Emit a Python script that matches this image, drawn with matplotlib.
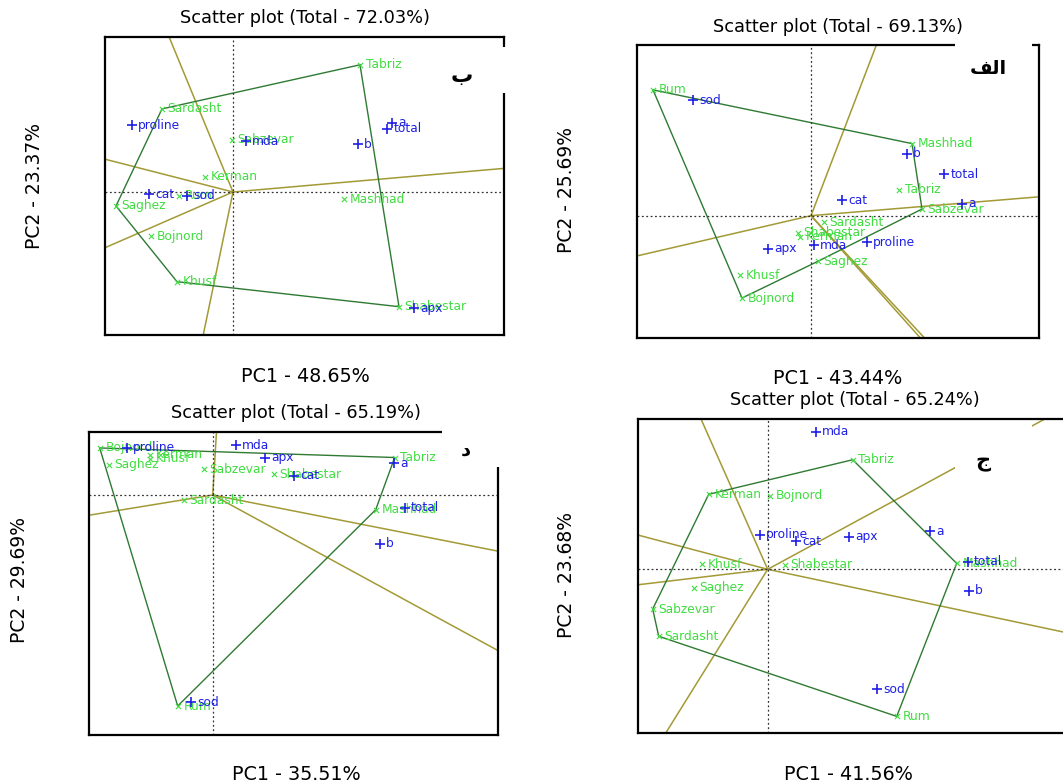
import numpy as np
import matplotlib.pyplot as plt
from matplotlib.patches import Rectangle

W, H = 1063, 782

sites = ["Tabriz", "Mashhad", "Sabzevar", "Sardasht", "Shabestar",
         "Kerman", "Saghez", "Khusf", "Bojnord", "Rum"]
traits = ["a", "b", "total", "cat", "sod", "apx", "mda", "proline"]

# panel b (top left)
p1_gx = [1.27, 1.11, -0.01, -0.71, 1.66, -0.28, -1.17, -0.56, -0.82, -0.54]
p1_gy = [1.73, -0.10, 0.71, 1.13, -1.56, 0.21, -0.19, -1.22, -0.60, -0.05]
p1_tx = [1.59, 1.25, 1.54, -0.84, -0.46, 1.81, 0.13, -1.01]
p1_ty = [0.94, 0.65, 0.86, -0.03, -0.05, -1.58, 0.69, 0.91]
p1_hull = ["Tabriz", "Shabestar", "Khusf", "Saghez", "Sardasht"]

# panel alef (top right)
p2_gx = [0.88, 1.01, 1.11, 0.13, -0.13, -0.11, 0.07, -0.71, -0.69, -1.58]
p2_gy = [0.35, 0.98, 0.09, -0.09, -0.23, -0.29, -0.62, -0.81, -1.12, 1.71]
p2_tx = [1.51, 0.96, 1.33, 0.31, -1.18, -0.43, 0.03, 0.56]
p2_ty = [0.16, 0.84, 0.56, 0.21, 1.57, -0.45, -0.40, -0.36]
p2_hull = ["Rum", "Mashhad", "Sabzevar", "Saghez", "Bojnord"]

# panel dal (bottom left)
p3_gx = [1.82, 1.63, -0.09, -0.29, 0.61, -0.63, -1.04, -0.63, -1.13, -0.35]
p3_gy = [0.51, -0.20, 0.35, -0.07, 0.28, 0.55, 0.41, 0.49, 0.64, -2.87]
p3_tx = [1.81, 1.67, 1.92, 0.81, -0.22, 0.52, 0.23, -0.86]
p3_ty = [0.43, -0.66, -0.17, 0.26, -2.82, 0.51, 0.68, 0.64]
p3_hull = ["Bojnord", "Tabriz", "Mashhad", "Rum"]

# panel jim (bottom right)
p4_gx = [0.85, 1.89, -1.15, -1.09, 0.17, -0.59, -0.74, -0.66, 0.02, 1.29]
p4_gy = [1.49, 0.08, -0.54, -0.91, 0.06, 1.02, -0.25, 0.07, 1.00, -2.00]
p4_tx = [1.62, 2.01, 2.00, 0.28, 1.09, 0.81, 0.48, -0.08]
p4_ty = [0.52, -0.29, 0.10, 0.38, -1.63, 0.44, 1.87, 0.47]
p4_hull = ["Kerman", "Tabriz", "Mashhad", "Rum", "Sardasht", "Sabzevar"]

titles = ["Scatter plot (Total - 72.03%)", "Scatter plot (Total - 69.13%)",
          "Scatter plot (Total - 65.19%)", "Scatter plot (Total - 65.24%)"]
xlabels = ["PC1 - 48.65%", "PC1 - 43.44%", "PC1 - 35.51%", "PC1 - 41.56%"]
ylabels = ["PC2 - 23.37%", "PC2 - 25.69%", "PC2 - 29.69%", "PC2 - 23.68%"]
tags = ["\u0628", "\uFED2\uFEDF\uFE8D", "\u062F", "\u062C"]

GREEN = "#40dd40"
BLUE = "#1f1fe6"
HULL = "#2f7a33"
RAY = "#a39a35"

fig = plt.figure(figsize=(W / 100, H / 100), dpi=100)


def px_axes(x0, y0, x1, y1):
    return fig.add_axes([x0 / W, 1 - y1 / H, (x1 - x0) / W, (y1 - y0) / H])


def ftext(x, y, s, **kw):
    fig.text(x / W, 1 - y / H, s, **kw)


def white_box(x0, y0, x1, y1):
    fig.patches.append(Rectangle((x0 / W, 1 - y1 / H), (x1 - x0) / W, (y1 - y0) / H,
                                 transform=fig.transFigure, facecolor="white",
                                 edgecolor="none", zorder=5))


def biplot(ax, gx, gy, tx, ty, hull, xlim, ylim):
    gx, gy = np.array(gx), np.array(gy)
    pos = {s: (gx[i], gy[i]) for i, s in enumerate(sites)}
    poly = np.array([pos[s] for s in hull])
    # sector rays, perpendicular from origin to each hull side
    for i in range(len(poly)):
        a = poly[i]
        d = poly[(i + 1) % len(poly)] - a
        t = -np.dot(a, d) / np.dot(d, d)
        foot = a + t * d
        foot = foot / np.hypot(*foot) * 20
        ax.plot([0, foot[0]], [0, foot[1]], color=RAY, lw=1.1, zorder=1)
    closed = np.vstack([poly, poly[:1]])
    ax.plot(closed[:, 0], closed[:, 1], color=HULL, lw=1.0, zorder=2)
    ax.axhline(0, color="#333333", lw=0.9, ls=(0, (1.5, 2)), zorder=2)
    ax.axvline(0, color="#333333", lw=0.9, ls=(0, (1.5, 2)), zorder=2)
    ax.scatter(gx, gy, marker="x", s=14, color=GREEN, linewidths=0.8, zorder=3)
    for i, s in enumerate(sites):
        ax.annotate(s, (gx[i], gy[i]), xytext=(4, 0), textcoords="offset points",
                    va="center", ha="left", fontsize=8.8, color=GREEN, zorder=3)
    ax.scatter(tx, ty, marker="+", s=50, color=BLUE, linewidths=1.2, zorder=4)
    for i, s in enumerate(traits):
        ax.annotate(s, (tx[i], ty[i]), xytext=(4.5, 0), textcoords="offset points",
                    va="center", ha="left", fontsize=8.8, color=BLUE, zorder=4)
    ax.set_xlim(xlim)
    ax.set_ylim(ylim)
    ax.set_xticks([])
    ax.set_yticks([])
    for sp in ax.spines.values():
        sp.set_linewidth(1.6)


ax1 = px_axes(105, 37, 504, 335)
biplot(ax1, p1_gx, p1_gy, p1_tx, p1_ty, p1_hull, (-1.28, 2.71), (-1.945, 2.108))
ax2 = px_axes(637, 45, 1039, 338)
biplot(ax2, p2_gx, p2_gy, p2_tx, p2_ty, p2_hull, (-1.74, 2.28), (-1.663, 2.32))
ax3 = px_axes(89, 432, 498, 735)
biplot(ax3, p3_gx, p3_gy, p3_tx, p3_ty, p3_hull, (-1.237, 2.853), (-3.264, 0.857))
ax4 = px_axes(638, 419, 1068, 733)
biplot(ax4, p4_gx, p4_gy, p4_tx, p4_ty, p4_hull, (-1.297, 3.003), (-2.226, 2.044))

# white label boxes that cover the frame corners
white_box(440, 47, 512, 93)
white_box(955, 40, 1032, 72)
white_box(442, 424, 506, 467)
white_box(955, 421, 1032, 470)

ftext(462, 76, tags[0], fontsize=16, fontweight="bold", ha="center", va="center", zorder=6)
ftext(988, 68, tags[1], fontsize=14, fontweight="bold", ha="center", va="center", zorder=6)
ftext(466, 450, tags[2], fontsize=14, fontweight="bold", ha="center", va="center", zorder=6)
ftext(983, 462, tags[3], fontsize=15, fontweight="bold", ha="center", va="center", zorder=6)

tpos = [(305, 18), (838, 27), (296, 413), (855, 400)]
xpos = [(305, 377), (838, 379), (296, 775), (848, 775)]
ypos = [(35, 186), (566, 190), (20, 580), (566, 575)]
for i in range(4):
    ftext(*tpos[i], titles[i], fontsize=12.8, ha="center", va="center")
    ftext(*xpos[i], xlabels[i], fontsize=13.8, ha="center", va="center")
    ftext(*ypos[i], ylabels[i], fontsize=13.5, ha="center", va="center", rotation=90)

fig.savefig("out.png", dpi=100)
